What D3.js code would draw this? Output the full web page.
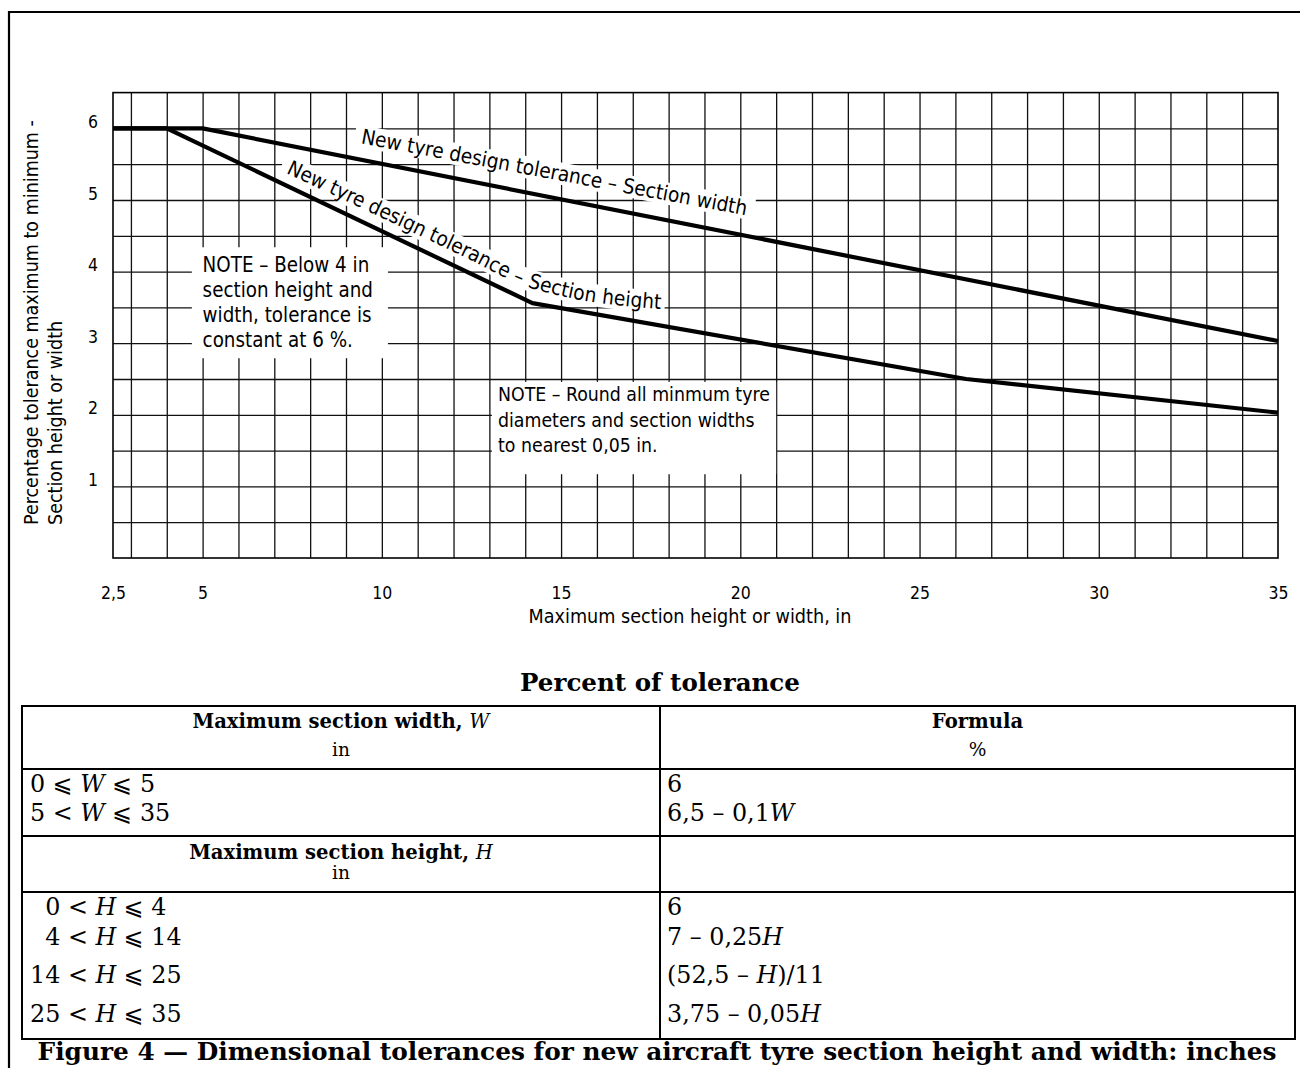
<!DOCTYPE html>
<html><head><meta charset="utf-8">
<script src="https://cdn.jsdelivr.net/npm/d3@7/dist/d3.min.js"></script>
<style>body{margin:0;background:#fff}svg{display:block}</style>
</head><body>
<script>
// ---------------- DATA ----------------
const xTicks = [2.5, 5, 10, 15, 20, 25, 30, 35];
const xTickLabels = ["2,5", "5", "10", "15", "20", "25", "30", "35"];
const yTicks = [1, 2, 3, 4, 5, 6];
const yTickLabels = ["1", "2", "3", "4", "5", "6"];
const xGridValues = [3,4,5,6,7,8,9,10,11,12,13,14,15,16,17,18,19,20,21,22,23,24,25,26,27,28,29,30,31,32,33,34];
const yGridValues = [0.5,1,1.5,2,2.5,3,3.5,4,4.5,5,5.5,6];

// Section width tolerance line
const widthX = [2.5, 5, 35];
const widthY = [6, 6, 3.03];
// Section height tolerance line
const heightX = [2.5, 4, 14.2, 26.3, 35];
const heightY = [6, 6, 3.56, 2.5, 2.03];

const widthLabel = "New tyre design tolerance – Section width";
const heightLabel = "New tyre design tolerance – Section height";
const note1Lines = ["NOTE – Below 4 in", "section height and", "width, tolerance is", "constant at 6 %."];
const note2Lines = ["NOTE – Round all minmum tyre", "diameters and section widths", "to nearest 0,05 in."];
const xTitle = "Maximum section height or width, in";
const yTitleLines = ["Percentage tolerance maximum to minimum -", "Section height or width"];

const tableTitle = "Percent of tolerance";
const widthHeader = ["Maximum section width, W", "in"];
const formulaHeader = ["Formula", "%"];
const heightHeader = ["Maximum section height, H", "in"];
const widthRanges = ["0 ⩽ W ⩽ 5", "5 < W ⩽ 35"];
const widthFormulas = ["6", "6,5 – 0,1W"];
const heightRanges = ["\u20070 < H ⩽ 4", "\u20074 < H ⩽ 14", "14 < H ⩽ 25", "25 < H ⩽ 35"];
const heightFormulas = ["6", "7 – 0,25H", "(52,5 – H)/11", "3,75 – 0,05H"];
const caption = "Figure 4 — Dimensional tolerances for new aircraft tyre section height and width: inches";

// ---------------- LAYOUT ----------------
const W = 1300, H = 1068;
const SANS = "'DejaVu Sans Condensed', 'DejaVu Sans', sans-serif";
const SERIF = "'DejaVu Serif', 'DejaVu Sans', serif";
const INK = "#000";

const svg = d3.select("body").append("svg").attr("width", W).attr("height", H);
svg.append("rect").attr("width", W).attr("height", H).attr("fill", "#fff");

// outer frame (left + top)
svg.append("path").attr("d", `M9,${H} V12 H${W}`).attr("fill", "none")
  .attr("stroke", INK).attr("stroke-width", 2.2);

const x = d3.scaleLinear().domain([2.5, 35]).range([113, 1278]);
const y = d3.scaleLinear().domain([0, 6.5]).range([558, 92.6]);

function fit(sel, target) {
  const fs = parseFloat(sel.attr("font-size"));
  const w = sel.node().getComputedTextLength();
  const nf = fs * target / w;
  sel.attr("font-size", nf);
  return nf;
}

// grid via axes
const gridH = y(0) - y(6.5);
const gx = svg.append("g").attr("transform", `translate(0,${y(0)})`)
  .call(d3.axisBottom(x).tickValues(xGridValues).tickSize(-gridH).tickFormat(""));
gx.select(".domain").remove();
gx.selectAll(".tick line").attr("stroke", "#111").attr("stroke-width", 1.3);

const gy = svg.append("g").attr("transform", `translate(${x(2.5)},0)`)
  .call(d3.axisLeft(y).tickValues(yGridValues).tickSize(-(x(35) - x(2.5))).tickFormat(""));
gy.select(".domain").remove();
gy.selectAll(".tick line").attr("stroke", "#111").attr("stroke-width", 1.3);

// plot frame
svg.append("rect").attr("x", x(2.5)).attr("y", y(6.5))
  .attr("width", x(35) - x(2.5)).attr("height", y(0) - y(6.5))
  .attr("fill", "none").attr("stroke", INK).attr("stroke-width", 1.6);

// tick labels through axes
const ax = svg.append("g").attr("transform", `translate(0,${y(0)})`)
  .call(d3.axisBottom(x).tickValues(xTicks).tickSize(0).tickPadding(29)
    .tickFormat((d, i) => xTickLabels[i]));
ax.select(".domain").remove();
ax.selectAll("text").attr("font-family", SANS).attr("font-size", 17.5).attr("fill", INK);

const ay = svg.append("g").attr("transform", `translate(${x(2.5) - 14},0)`)
  .call(d3.axisLeft(y).tickValues(yTicks).tickSize(0).tickPadding(0)
    .tickFormat((d, i) => yTickLabels[i]));
ay.select(".domain").remove();
ay.selectAll("text").attr("font-family", SANS).attr("font-size", 17.5).attr("fill", INK)
  .attr("text-anchor", "middle").attr("dy", "-0.05em").attr("x", -6);

// axis titles
const xt = svg.append("text").attr("x", 690).attr("y", 623).attr("text-anchor", "middle")
  .attr("font-family", SANS).attr("font-size", 16).attr("fill", INK).text(xTitle);
fit(xt, 323);

const yt1 = svg.append("text").attr("transform", "translate(38,525) rotate(-90)")
  .attr("font-family", SANS).attr("font-size", 16).attr("fill", INK).text(yTitleLines[0]);
const yfs = fit(yt1, 405);
svg.append("text").attr("transform", "translate(62,525) rotate(-90)")
  .attr("font-family", SANS).attr("font-size", yfs).attr("fill", INK).text(yTitleLines[1]);

// note boxes (white knock-outs in data coords)
svg.append("rect").attr("x", x(4.7)).attr("y", y(4.34))
  .attr("width", x(10.17) - x(4.7)).attr("height", y(2.79) - y(4.34)).attr("fill", "#fff");
svg.append("rect").attr("x", x(13.07)).attr("y", y(2.46))
  .attr("width", x(21.0) - x(13.07)).attr("height", y(1.17) - y(2.46)).attr("fill", "#fff");

// line-label paths (centre lines of the text bands, data coords)
const labelLine = d3.line().x(d => x(d[0])).y(d => y(d[1]));
const widthLabelPath = [[9.0, 5.929], [20.6, 4.843]];
const heightLabelPath = [[7.0, 5.56], [12.6, 4.24], [14.0, 3.90], [15.0, 3.76], [17.9, 3.57]];
const defs = svg.append("defs");
defs.append("path").attr("id", "wlp").attr("d", labelLine(widthLabelPath));
defs.append("path").attr("id", "hlp").attr("d", labelLine.curve(d3.curveMonotoneX)(heightLabelPath));
labelLine.curve(d3.curveLinear);

const START = 16;
function pathText(id, str, fs, off) {
  const t = svg.append("text").attr("font-family", SANS).attr("font-size", fs)
    .attr("fill", INK).attr("dominant-baseline", "central");
  t.append("textPath").attr("href", "#" + id).attr("startOffset", off).text(str);
  return t;
}
// measure a full label: length and offsets of its word groups
function measure(id, str, fs) {
  const t = pathText(id, str, fs, START);
  const n = t.node();
  const len = n.getComputedTextLength();
  const words = [];
  let idx = 0;
  str.split(/ (?!–)/).forEach(w => {
    const off = idx === 0 ? 0 : n.getSubStringLength(0, idx);
    words.push({ w, off });
    idx += w.length + 1;
  });
  t.remove();
  return { len, words };
}
// font size from the width label
const probeL = pathText("wlp", widthLabel, 16, START);
const lfs = fit(probeL, 392);
probeL.remove();
const wm = measure("wlp", widthLabel, lfs);
const hm = measure("hlp", heightLabel, lfs);

function band(id, len) {
  svg.append("use").attr("href", "#" + id).attr("fill", "none").attr("stroke", "#fff")
    .attr("stroke-width", 22).attr("stroke-dasharray", `0,${START - 7},${len + 14},5000`);
}
band("wlp", wm.len);
band("hlp", hm.len);

// data lines
const line = d3.line().x(d => x(d[0])).y(d => y(d[1])).curve(d3.curveLinear);
svg.append("path").attr("d", line(d3.zip(widthX, widthY))).attr("fill", "none")
  .attr("stroke", INK).attr("stroke-width", 4.2).attr("stroke-linejoin", "round");
svg.append("path").attr("d", line(d3.zip(heightX, heightY))).attr("fill", "none")
  .attr("stroke", INK).attr("stroke-width", 4.2).attr("stroke-linejoin", "round");

// labels word by word along their paths
wm.words.forEach(o => pathText("wlp", o.w, lfs, START + o.off));
hm.words.forEach(o => pathText("hlp", o.w, lfs, START + o.off));

// notes
const n1 = svg.append("g");
note1Lines.forEach((s, i) => n1.append("text").attr("x", x(5.0)).attr("y", y(4) + 0.5 + i * 25)
  .attr("font-family", SANS).attr("font-size", 16).attr("fill", INK).text(s));
const n1fs = fit(n1.select("text:nth-child(3)"), 169);
n1.selectAll("text").attr("font-size", n1fs);

const n2 = svg.append("g");
note2Lines.forEach((s, i) => n2.append("text").attr("x", x(13.24)).attr("y", 401 + i * 25.5)
  .attr("font-family", SANS).attr("font-size", 16).attr("fill", INK).text(s));
const n2fs = fit(n2.select("text"), 272);
n2.selectAll("text").attr("font-size", n2fs);

// ---------------- TABLE ----------------
const TL = 22, TR = 1295, TC = 660;
const rowLines = [706, 769, 836, 892, 1039];
const tg = svg.append("g");
tg.append("rect").attr("x", TL).attr("y", rowLines[0]).attr("width", TR - TL)
  .attr("height", rowLines[4] - rowLines[0]).attr("fill", "none").attr("stroke", INK).attr("stroke-width", 2);
rowLines.slice(1, 4).forEach(v => tg.append("line").attr("x1", TL).attr("x2", TR)
  .attr("y1", v).attr("y2", v).attr("stroke", INK).attr("stroke-width", 2));
tg.append("line").attr("x1", TC).attr("x2", TC).attr("y1", rowLines[0]).attr("y2", rowLines[4])
  .attr("stroke", INK).attr("stroke-width", 2);

function rich(sel, str, varWeight) {
  str.split(/([WH])/).forEach(part => {
    if (!part) return;
    const t = sel.append("tspan").text(part);
    if (part === "W" || part === "H") {
      t.attr("font-style", "italic");
      if (varWeight) t.attr("font-weight", varWeight);
    }
  });
  return sel;
}
function ttext(xp, yp, anchor, fs, weight) {
  return tg.append("text").attr("x", xp).attr("y", yp).attr("text-anchor", anchor)
    .attr("font-family", SERIF).attr("font-size", fs).attr("font-weight", weight || "normal")
    .attr("fill", INK).style("white-space", "pre");
}

// title
const tt = ttext(660, 691, "middle", 22, "bold").text(tableTitle);
fit(tt, 280);

// headers
const lc = (TL + TC) / 2, rc = (TC + TR) / 2;
const h1 = rich(ttext(lc, 728, "middle", 17, "bold"), widthHeader[0], "normal");
const hfs = fit(h1, 297);
ttext(lc, 756, "middle", hfs * 0.95).text(widthHeader[1]);
ttext(rc, 728, "middle", hfs, "bold").text(formulaHeader[0]);
ttext(rc, 756, "middle", hfs * 0.95).text(formulaHeader[1]);
rich(ttext(lc, 859, "middle", hfs, "bold"), heightHeader[0], "normal");
ttext(lc, 879, "middle", hfs * 0.95).text(heightHeader[1]);

// body rows
const probe = rich(ttext(0, -50, "start", 20), heightFormulas[2]);
const bfs = fit(probe, 158);
probe.remove();
const wRowY = [792, 821];
const hRowY = [915, 945, 983, 1022];
widthRanges.forEach((s, i) => rich(ttext(TL + 8, wRowY[i], "start", bfs), s));
widthFormulas.forEach((s, i) => rich(ttext(TC + 7, wRowY[i], "start", bfs), s));
heightRanges.forEach((s, i) => rich(ttext(TL + 8, hRowY[i], "start", bfs), s));
heightFormulas.forEach((s, i) => rich(ttext(TC + 7, hRowY[i], "start", bfs), s));

// caption
const cap = ttext(657, 1060, "middle", 22, "bold").text(caption);
fit(cap, 1240);
</script>
</body></html>
